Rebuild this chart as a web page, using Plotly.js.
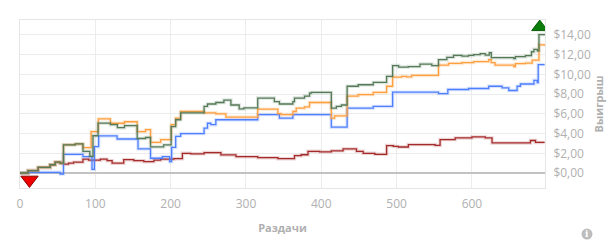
<!DOCTYPE html>
<html><head><meta charset="utf-8">
<script src="https://cdn.plot.ly/plotly-3.0.1.min.js"></script>
<style>html,body{margin:0;padding:0;background:#fff}#chart{width:613px;height:245px}</style>
</head><body><div id="chart"></div>
<script>
// Net won (green)
const netX = [0,10.7,24,40,46.7,53.3,57.7,73.3,83.6,92.7,96.9,103.6,120,129.3,138.7,155.6,166.7,173.3,190.7,200.7,206.7,213.3,244.4,248.9,260,270.7,280,291,297.3,315.6,337.7,344.4,362.3,364.4,377.7,384.4,386.7,413.3,420,426.7,434.3,449,469,486.7,494.7,502.7,515.6,531,546.7,555.6,566.7,575.6,586.7,595.6,602.3,611,617.7,623,625.7,630.7,655.6,657.7,671,679,682.3,686.7,689,696.5];
const netY = [0,0.25,0.57,0.84,1.1,1.0,2.86,2.95,2.19,1.68,3.78,5.06,4.9,4.6,4.8,3.5,3.6,2.65,2.85,4.7,5.4,6.1,6.75,7.0,7.15,7.4,6.9,6.5,6.6,7.6,7.25,7.0,7.25,7.6,7.8,8.1,8.17,6.58,6.75,6.9,8.8,8.95,9.19,9.8,10.9,10.75,10.8,11.05,10.9,11.5,11.73,11.93,11.85,11.93,12.0,12.1,11.95,12.2,11.7,11.7,11.6,11.8,11.9,12.3,12.55,12.4,14.04,13.97];
// All-in EV (orange)
const evX = [0,10.7,24,40,46.7,53.3,57.7,73.3,83.6,94.4,104,120,138.7,155.6,166.7,173.3,186.7,200.9,206.7,213.3,244.4,260,273.3,315.6,342.3,346.7,362.3,366.7,377.7,384.4,413.3,417.7,434.3,449,469,486.7,494.7,506.7,513.3,520,555.6,568.9,586.7,602.3,622.3,625.7,630.7,655.6,657.7,671,680,689,696.5];
const evY = [0,0.25,0.57,0.84,1.1,1.0,2.86,2.95,2.57,4.2,5.5,5.05,5.2,4.2,4.4,3.1,3.39,4.9,5.56,6.24,6.1,6.0,5.67,6.48,6.03,5.93,6.24,6.58,6.7,7.15,5.56,5.8,7.8,7.96,8.17,8.8,9.73,9.8,9.75,9.9,10.95,11.12,11.2,11.3,11.5,11.2,10.95,10.8,11.1,11.15,11.45,13.0,12.9];
// Showdown winnings (blue)
const sdX = [0,10.7,53.3,57.7,83.6,95.6,98.7,104.4,128.9,156.7,173.3,188.9,198.7,201.3,206.7,213.3,244.4,248.9,253.3,260,315.6,344.4,362.3,413.3,434.3,469,494.7,555.6,568,595.6,622.3,640,648.9,660,664.4,682.3,686.7,688,696.5];
const sdY = [0,0.07,-0.1,1.9,1.66,0.37,2.67,3.76,3.45,2.45,1.5,1.66,1.15,2.6,3.72,4.0,4.55,5.05,4.9,5.4,5.93,5.56,5.93,4.65,6.58,6.75,8.2,8.06,8.47,8.57,8.8,8.64,8.37,8.8,9.03,9.4,9.16,11.0,11.0];
// Non-showdown winnings (red)
const nsdX = [0,10.7,24,40,46.7,53.3,57.7,64.4,71.1,83.6,91.1,106.7,115.6,122.3,137.7,151.1,164.4,177.7,186.7,204.4,215.6,226.7,244.4,266.7,286.7,315.6,342.3,364.4,373.3,382.3,397.7,413.3,428.9,446.7,455.6,471.1,486.7,495.6,502.3,515.6,551.1,557.7,577.7,600,617.7,626.7,677.7,684.4,696.5];
const nsdY = [0,0.25,0.57,0.84,1.1,1.0,0.9,1.0,1.1,1.4,1.3,1.4,1.25,1.0,1.35,1.25,1.15,1.3,1.4,1.45,2.0,1.95,2.07,1.83,1.66,1.56,1.45,1.76,1.85,2.2,2.15,2.25,2.44,2.2,2.0,1.9,2.78,2.7,2.64,2.88,2.8,3.39,3.56,3.66,3.56,3.05,3.3,3.1,3.1];
// Min / max markers
const minMark = {x: [12.6], y: [-0.7]};
const maxMark = {x: [690], y: [14.8]};
const xTitle = 'Раздачи';
const yTitle = 'Выигрыш';

const series = [
  {x: nsdX, y: nsdY, color: '#a52a2a', halo: 'rgba(165,42,42,0.2)'},
  {x: sdX, y: sdY, color: '#4d7fff', halo: 'rgba(77,127,255,0.2)'},
  {x: evX, y: evY, color: '#ffa040', halo: 'rgba(255,160,64,0.22)'},
  {x: netX, y: netY, color: '#557a58', halo: 'rgba(85,122,88,0.2)'}
];
const traces = [];
series.forEach(s => {
  traces.push({x: s.x, y: s.y, type: 'scatter', mode: 'lines', line: {shape: 'hv', color: s.halo, width: 3.5}, hoverinfo: 'skip'});
  traces.push({x: s.x, y: s.y, type: 'scatter', mode: 'lines', line: {shape: 'hv', color: s.color, width: 1.3}});
});
traces.push({x: minMark.x, y: minMark.y, type: 'scatter', mode: 'markers', marker: {symbol: 'triangle-down', size: 15, color: '#ee0000', line: {color: '#8b0000', width: 1}}});
traces.push({x: maxMark.x, y: maxMark.y, type: 'scatter', mode: 'markers', marker: {symbol: 'triangle-up', size: 14, color: '#0a7d0a', line: {color: '#075a07', width: 1}}});

const layout = {
  width: 613, height: 245,
  margin: {l: 20, r: 68, t: 20, b: 57},
  paper_bgcolor: '#fff', plot_bgcolor: '#fff',
  showlegend: false,
  separators: ', ',
  font: {family: 'Open Sans, sans-serif', color: '#b0b0b0', size: 11},
  xaxis: {
    range: [0, 697], dtick: 100, tick0: 0,
    showgrid: true, gridcolor: '#ececec', showline: true, mirror: true, linecolor: '#e6e6e6',
    zeroline: false, ticks: 'outside', ticklen: 5, tickcolor: 'rgba(0,0,0,0)', tickfont: {size: 12, color: '#b0b0b0'},
    title: {text: xTitle, font: {size: 11, color: '#b0b0b0', weight: 'bold'}, standoff: 12},
    fixedrange: true
  },
  yaxis: {
    side: 'right', range: [-1.52, 15.52], dtick: 2, tick0: 0,
    tickprefix: '$', tickformat: '.2f',
    showgrid: true, gridcolor: '#ececec', showline: true, mirror: true, linecolor: '#e6e6e6',
    zeroline: true, zerolinecolor: '#c2c2c2', zerolinewidth: 2,
    ticks: 'outside', ticklen: 5, tickcolor: 'rgba(0,0,0,0)',
    tickfont: {size: 12, color: '#b0b0b0'},
    title: {text: yTitle, font: {size: 11, color: '#b0b0b0', weight: 'bold'}, standoff: 5},
    fixedrange: true
  },
  shapes: [{type: 'circle', xref: 'paper', yref: 'paper', xsizemode: 'pixel', ysizemode: 'pixel',
            xanchor: 1.08, yanchor: -0.274, x0: -5.5, x1: 5.5, y0: -5.5, y1: 5.5,
            fillcolor: '#bdbdbd', line: {width: 0}}],
  annotations: [{xref: 'paper', yref: 'paper', x: 1.08, y: -0.274, text: '<b>i</b>', showarrow: false,
                 font: {size: 9, color: '#fff', family: 'DejaVu Serif'}, xanchor: 'center', yanchor: 'middle'}]
};
Plotly.newPlot('chart', traces, layout, {displayModeBar: false, staticPlot: true});
</script></body></html>
